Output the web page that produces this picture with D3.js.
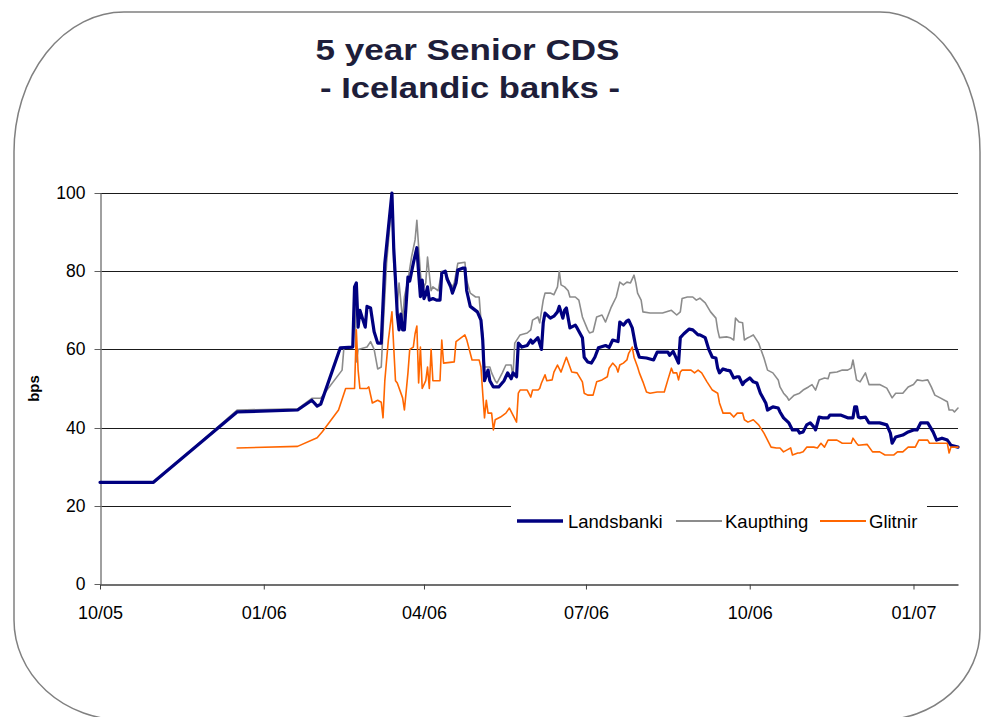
<!DOCTYPE html>
<html><head><meta charset="utf-8">
<script src="https://cdn.jsdelivr.net/npm/d3@7"></script>
<style>
html,body{margin:0;padding:0;background:#fff;}
svg{display:block;}
</style>
</head><body>
<svg id="chart" width="982" height="717"></svg>
<script>
// ---------- DATA ----------
const titleLines = ["5 year Senior CDS", "- Icelandic banks -"];
const yAxisTitle = "bps";
const seriesNames = ["Landsbanki", "Kaupthing", "Glitnir"];
const yTicks = [0, 20, 40, 60, 80, 100];
const xTickDates = ["2005-10-01", "2006-01-01", "2006-04-01", "2006-07-01", "2006-10-01", "2007-01-01"];
const xDomain = ["2005-10-01", "2007-01-26"];

const landsbanki = [
["2005-10-01",26],["2005-10-31",26],["2005-12-17",44],["2006-01-20",44.5],["2006-01-28",47],["2006-01-31",45.5],["2006-02-02",46],["2006-02-13",60.4],["2006-02-20",60.6],["2006-02-21",76],["2006-02-22",77],["2006-02-23",65.7],["2006-02-24",70],["2006-02-27",65.7],["2006-02-28",71],["2006-03-02",70.6],["2006-03-04",64.5],["2006-03-06",61.6],["2006-03-08",61.6],["2006-03-10",82],["2006-03-14",100],["2006-03-15",86],["2006-03-16",77.7],["2006-03-17",69],["2006-03-18",65],["2006-03-19",69],["2006-03-20",65],["2006-03-21",65],["2006-03-23",78.5],["2006-03-24",77.5],["2006-03-26",82],["2006-03-28",86],["2006-03-29",79.5],["2006-03-30",73.5],["2006-03-31",77.7],["2006-04-01",73],["2006-04-02",74],["2006-04-03",76],["2006-04-04",72.6],["2006-04-06",73],["2006-04-08",72.6],["2006-04-10",72.6],["2006-04-11",79.5],["2006-04-13",80],["2006-04-14",78],["2006-04-16",76],["2006-04-17",74.4],["2006-04-19",77],["2006-04-20",80.3],["2006-04-23",80.8],["2006-04-24",80.8],["2006-04-25",75],["2006-04-27",71],["2006-05-01",69.6],["2006-05-03",67.5],["2006-05-04",62.4],["2006-05-05",52],["2006-05-07",54.7],["2006-05-08",52],["2006-05-10",50.4],["2006-05-13",50.4],["2006-05-16",52],["2006-05-17",53],["2006-05-18",54],["2006-05-20",52.5],["2006-05-21",54],["2006-05-23",53],["2006-05-24",61.6],["2006-05-26",60.6],["2006-05-29",61],["2006-05-31",62.4],["2006-06-01",61.6],["2006-06-04",63],["2006-06-06",60],["2006-06-07",66.8],["2006-06-08",69.3],["2006-06-11",68],["2006-06-13",68.5],["2006-06-15",69.6],["2006-06-16",71],["2006-06-18",68],["2006-06-19",70],["2006-06-20",70.6],["2006-06-22",65.5],["2006-06-25",66.2],["2006-06-26",65.5],["2006-06-29",63],["2006-06-30",58],["2006-07-02",56.8],["2006-07-04",56.5],["2006-07-06",58],["2006-07-08",60.4],["2006-07-12",61],["2006-07-14",60.5],["2006-07-16",62.4],["2006-07-19",62],["2006-07-20",67],["2006-07-22",66.2],["2006-07-24",67.3],["2006-07-25",67.5],["2006-07-27",65.5],["2006-07-29",60.6],["2006-07-31",58],["2006-08-04",57.8],["2006-08-08",57.3],["2006-08-10",59.3],["2006-08-16",59.3],["2006-08-17",58.5],["2006-08-19",59.5],["2006-08-22",56.5],["2006-08-23",63],["2006-08-25",64],["2006-08-28",65.2],["2006-08-30",65],["2006-09-02",63.7],["2006-09-03",63.7],["2006-09-06",63],["2006-09-08",60],["2006-09-10",58],["2006-09-12",57.8],["2006-09-13",55.2],["2006-09-14",54],["2006-09-16",55],["2006-09-18",54.7],["2006-09-20",54.5],["2006-09-22",52.7],["2006-09-24",53],["2006-09-25",53],["2006-09-27",51],["2006-09-28",51.7],["2006-10-01",52.7],["2006-10-03",51.7],["2006-10-05",51.4],["2006-10-07",48.8],["2006-10-10",46.3],["2006-10-11",44.5],["2006-10-14",45.3],["2006-10-17",45],["2006-10-18",44],["2006-10-20",42.5],["2006-10-23",41.2],["2006-10-25",39.4],["2006-10-28",39.4],["2006-10-29",38.6],["2006-10-31",38.9],["2006-11-02",40.7],["2006-11-04",41.2],["2006-11-06",40.2],["2006-11-07",39.4],["2006-11-09",42.7],["2006-11-11",42.5],["2006-11-14",42.5],["2006-11-15",43.2],["2006-11-21",43.2],["2006-11-25",42.5],["2006-11-28",42.5],["2006-11-29",45.3],["2006-11-30",45.3],["2006-12-01",42.7],["2006-12-02",42.5],["2006-12-05",42.7],["2006-12-07",41.2],["2006-12-13",41.2],["2006-12-17",40.7],["2006-12-19",38.6],["2006-12-20",36],["2006-12-22",37.6],["2006-12-26",38.1],["2006-12-29",38.9],["2007-01-01",39.4],["2007-01-03",39.4],["2007-01-05",41.2],["2007-01-09",41.2],["2007-01-12",38.9],["2007-01-14",36.8],["2007-01-17",37.3],["2007-01-20",36.8],["2007-01-22",35.5],["2007-01-26",35]
];

const kaupthing = [
["2005-10-01",25.8],["2005-10-31",25.8],["2005-12-17",44.5],["2006-01-20",44.8],["2006-01-28",47.5],["2006-02-02",47.5],["2006-02-14",54.7],["2006-02-15",60.4],["2006-02-20",60.6],["2006-02-21",75],["2006-02-22",56.8],["2006-02-23",60],["2006-02-28",60.6],["2006-03-02",62],["2006-03-04",60],["2006-03-06",55],["2006-03-08",55.5],["2006-03-09",65],["2006-03-11",82],["2006-03-14",98],["2006-03-15",82],["2006-03-17",71],["2006-03-18",77],["2006-03-20",67.5],["2006-03-21",73.4],["2006-03-23",77.7],["2006-03-25",83.6],["2006-03-27",88],["2006-03-28",93],["2006-03-30",79.5],["2006-03-31",75],["2006-04-02",77],["2006-04-03",83.6],["2006-04-05",75],["2006-04-06",76],["2006-04-09",75],["2006-04-11",80],["2006-04-13",80],["2006-04-15",77.5],["2006-04-17",76],["2006-04-18",77],["2006-04-20",82],["2006-04-24",82.3],["2006-04-25",77.7],["2006-04-27",74.4],["2006-04-30",73.4],["2006-05-02",73.4],["2006-05-03",67.5],["2006-05-04",64],["2006-05-05",55.5],["2006-05-08",55.5],["2006-05-09",54],["2006-05-11",52],["2006-05-12",51.4],["2006-05-15",54],["2006-05-17",56],["2006-05-20",56],["2006-05-21",53],["2006-05-22",61.6],["2006-05-24",63],["2006-05-25",63.7],["2006-05-29",64.2],["2006-05-31",65],["2006-06-01",67.5],["2006-06-04",68.3],["2006-06-05",66.8],["2006-06-07",72.6],["2006-06-08",74.4],["2006-06-11",74.4],["2006-06-13",74],["2006-06-15",76],["2006-06-16",80],["2006-06-17",76.5],["2006-06-19",76],["2006-06-21",75],["2006-06-22",73.4],["2006-06-25",73.4],["2006-06-27",72.6],["2006-06-29",68.3],["2006-07-02",65],["2006-07-03",64.2],["2006-07-05",64.5],["2006-07-07",68.3],["2006-07-10",68.8],["2006-07-12",67],["2006-07-15",70.6],["2006-07-18",73.4],["2006-07-20",77.2],["2006-07-22",76.5],["2006-07-24",77.2],["2006-07-26",77],["2006-07-28",79],["2006-07-29",77],["2006-07-30",74.4],["2006-08-01",72.6],["2006-08-02",69.6],["2006-08-06",69.3],["2006-08-13",69.3],["2006-08-18",70],["2006-08-21",68.8],["2006-08-23",69.6],["2006-08-24",73],["2006-08-27",73.4],["2006-08-30",73.4],["2006-09-01",72.6],["2006-09-03",73.1],["2006-09-06",71.9],["2006-09-09",69.6],["2006-09-12",68],["2006-09-13",65],["2006-09-14",63],["2006-09-18",63.2],["2006-09-20",63],["2006-09-22",62.4],["2006-09-23",68],["2006-09-25",67],["2006-09-27",66.8],["2006-09-28",62.4],["2006-09-30",63],["2006-10-01",63.2],["2006-10-03",63.7],["2006-10-06",61.6],["2006-10-09",57.8],["2006-10-11",54.7],["2006-10-14",54],["2006-10-17",52.2],["2006-10-18",50.4],["2006-10-20",48.8],["2006-10-22",47.8],["2006-10-23",47],["2006-10-26",48.3],["2006-10-29",48.8],["2006-10-31",49.6],["2006-11-03",50.4],["2006-11-05",51],["2006-11-07",49.6],["2006-11-09",52.2],["2006-11-12",52.7],["2006-11-14",52.5],["2006-11-15",54],["2006-11-19",54.2],["2006-11-22",54.7],["2006-11-25",54.7],["2006-11-27",55.2],["2006-11-28",57.3],["2006-11-30",52.2],["2006-12-02",51.7],["2006-12-05",54],["2006-12-07",51],["2006-12-13",51],["2006-12-17",50.1],["2006-12-20",47.6],["2006-12-22",48.8],["2006-12-26",48.8],["2006-12-29",50.4],["2007-01-01",51],["2007-01-03",52.2],["2007-01-06",52],["2007-01-09",52.2],["2007-01-11",50.4],["2007-01-13",48.3],["2007-01-16",47.6],["2007-01-20",46.6],["2007-01-21",44.5],["2007-01-23",44.5],["2007-01-24",44],["2007-01-26",45]
];

const glitnir = [
["2005-12-17",34.8],["2006-01-20",35.2],["2006-01-31",37.4],["2006-02-03",39],["2006-02-12",44.5],["2006-02-16",50],["2006-02-21",50],["2006-02-22",65],["2006-02-23",54.7],["2006-02-24",50],["2006-02-28",50],["2006-03-01",50.4],["2006-03-03",46.3],["2006-03-06",47],["2006-03-08",46.5],["2006-03-09",42.5],["2006-03-10",52],["2006-03-12",62.4],["2006-03-14",69.6],["2006-03-15",60.6],["2006-03-16",52],["2006-03-17",51.4],["2006-03-20",47.6],["2006-03-21",44.5],["2006-03-23",54],["2006-03-24",60],["2006-03-26",60.6],["2006-03-27",64],["2006-03-28",66],["2006-03-29",51.4],["2006-03-30",60.6],["2006-03-31",50],["2006-04-02",52],["2006-04-03",55.5],["2006-04-04",50],["2006-04-05",60],["2006-04-06",52],["2006-04-10",52],["2006-04-11",62.4],["2006-04-12",56.5],["2006-04-18",56.8],["2006-04-19",62],["2006-04-24",63.7],["2006-04-25",62.5],["2006-04-28",57.3],["2006-05-02",57.3],["2006-05-03",55.5],["2006-05-04",48.8],["2006-05-05",42.5],["2006-05-06",47],["2006-05-07",43.7],["2006-05-09",43.7],["2006-05-10",39.4],["2006-05-11",42],["2006-05-14",42.7],["2006-05-17",43.7],["2006-05-19",45],["2006-05-21",43.2],["2006-05-23",41.4],["2006-05-24",48.8],["2006-05-25",49.6],["2006-05-29",49.6],["2006-05-31",47.8],["2006-06-01",49.6],["2006-06-04",49.6],["2006-06-05",50],["2006-06-06",51.4],["2006-06-08",53.5],["2006-06-09",52],["2006-06-12",52.2],["2006-06-13",54.2],["2006-06-15",56],["2006-06-17",54.2],["2006-06-19",56.8],["2006-06-20",58],["2006-06-22",55.5],["2006-06-23",54.2],["2006-06-26",54],["2006-06-29",51.7],["2006-06-30",48.8],["2006-07-02",48.3],["2006-07-05",48.3],["2006-07-07",51.7],["2006-07-10",52.2],["2006-07-13",53],["2006-07-14",55.2],["2006-07-16",56.5],["2006-07-18",55.5],["2006-07-19",54.2],["2006-07-20",56],["2006-07-22",56.5],["2006-07-24",57.3],["2006-07-25",59],["2006-07-27",60.6],["2006-07-28",58],["2006-07-30",55.5],["2006-07-31",54],["2006-08-02",51.7],["2006-08-04",49.1],["2006-08-06",48.8],["2006-08-10",49.1],["2006-08-14",49.1],["2006-08-16",52.2],["2006-08-18",55.2],["2006-08-19",54],["2006-08-21",54],["2006-08-22",52.2],["2006-08-23",54.2],["2006-08-24",54.7],["2006-08-29",54.7],["2006-08-31",54],["2006-09-02",54.7],["2006-09-04",54],["2006-09-07",51.7],["2006-09-10",49.6],["2006-09-13",48.8],["2006-09-14",46.3],["2006-09-16",43.7],["2006-09-20",43.7],["2006-09-22",42.7],["2006-09-24",43.7],["2006-09-27",43.7],["2006-09-28",42],["2006-09-30",41.4],["2006-10-03",42],["2006-10-06",40.7],["2006-10-09",38.6],["2006-10-13",35],["2006-10-16",34.8],["2006-10-18",34.8],["2006-10-20",33.8],["2006-10-22",34.3],["2006-10-24",34.8],["2006-10-25",33],["2006-10-28",33.5],["2006-10-29",33.5],["2006-10-31",33.8],["2006-11-02",35],["2006-11-06",35],["2006-11-08",34.8],["2006-11-10",36],["2006-11-12",35],["2006-11-14",36.8],["2006-11-19",36.8],["2006-11-22",36],["2006-11-27",36],["2006-11-28",37.3],["2006-11-30",36],["2006-12-01",35.5],["2006-12-06",35.7],["2006-12-09",33.8],["2006-12-13",33.8],["2006-12-16",33],["2006-12-21",33],["2006-12-23",33.8],["2006-12-26",33.8],["2006-12-29",35],["2007-01-02",35],["2007-01-04",36.8],["2007-01-09",36.8],["2007-01-10",36],["2007-01-20",36],["2007-01-21",33.5],["2007-01-22",35],["2007-01-26",35]
];

// ---------- DRAW ----------
const svg = d3.select("#chart");
const W = 982, H = 717;
const parse = d3.timeParse("%Y-%m-%d");
const margin = {left: 100, right: 24, top: 193, bottom: 133};
const plotL = margin.left, plotR = W - margin.right, plotT = margin.top, plotB = H - margin.bottom;

// frame with rounded corners
const fr = {l: 14, r: 980, t: 12, b: 720};
svg.append("path")
  .attr("d", `M${fr.l+110},${fr.t} H${fr.r-100} A100 140 0 0 1 ${fr.r},${fr.t+140} V${fr.b-90} A100 90 0 0 1 ${fr.r-100},${fr.b} H${fr.l+110} A110 100 0 0 1 ${fr.l},${fr.b-100} V${fr.t+140} A110 140 0 0 1 ${fr.l+110},${fr.t} Z`)
  .attr("fill", "#fff").attr("stroke", "#808080").attr("stroke-width", 1.5);

// title
const title = svg.append("g").attr("font-family", "'Liberation Sans', Arial, sans-serif")
  .attr("font-weight", "bold").attr("font-size", 30).attr("fill", "#1e1e3a");
title.append("text").attr("x", 467.5).attr("y", 60).attr("text-anchor", "middle")
  .attr("textLength", 304).attr("lengthAdjust", "spacingAndGlyphs").text(titleLines[0]);
title.append("text").attr("x", 470).attr("y", 98).attr("text-anchor", "middle")
  .attr("textLength", 300).attr("lengthAdjust", "spacingAndGlyphs").text(titleLines[1]);

const x = d3.scaleTime().domain(xDomain.map(parse)).range([plotL, plotR]);
const y = d3.scaleLinear().domain([0, 100]).range([plotB, plotT]);

// gridlines
svg.append("g").selectAll("line").data(yTicks.filter(v => v > 0)).join("line")
  .attr("x1", plotL).attr("x2", plotR)
  .attr("y1", d => Math.round(y(d)) + 0.5).attr("y2", d => Math.round(y(d)) + 0.5)
  .attr("stroke", "#1a1a1a").attr("stroke-width", 1);

// y axis
const yAxis = svg.append("g").attr("transform", `translate(${plotL + 0.5},0)`)
  .call(d3.axisLeft(y).tickValues(yTicks).tickSize(6).tickPadding(9).tickSizeOuter(0));
yAxis.select(".domain").attr("stroke", "#808080").attr("stroke-width", 1.5);
yAxis.selectAll(".tick line").attr("stroke", "#606060");
yAxis.selectAll(".tick").attr("transform", d => `translate(0,${Math.round(y(d)) + 0.5})`);
yAxis.selectAll("text").attr("font-family", "'Liberation Sans', Arial, sans-serif")
  .attr("font-size", 17.5).attr("fill", "#000");

// x axis
const fmt = d3.timeFormat("%m/%y");
const xAxis = svg.append("g").attr("transform", `translate(0,${Math.round(plotB) + 0.5})`)
  .call(d3.axisBottom(x).tickValues(xTickDates.map(parse)).tickFormat(fmt).tickSize(5).tickPadding(17).tickSizeOuter(0));
xAxis.select(".domain").attr("stroke", "#404040").attr("stroke-width", 1.5);
xAxis.selectAll(".tick line").attr("stroke", "#404040");
xAxis.selectAll("text").attr("font-family", "'Liberation Sans', Arial, sans-serif")
  .attr("font-size", 18).attr("fill", "#000");

// y axis title
svg.append("text").attr("transform", `translate(39,${(plotT + plotB) / 2}) rotate(-90)`)
  .attr("text-anchor", "middle").attr("font-family", "'Liberation Sans', Arial, sans-serif")
  .attr("font-weight", "bold").attr("font-size", 15).text(yAxisTitle);

// lines
const line = d3.line().x(d => x(parse(d[0]))).y(d => y(d[1]));
const styles = {
  Landsbanki: {data: landsbanki, color: "#000080", width: 3.2},
  Kaupthing: {data: kaupthing, color: "#8c8c8c", width: 1.6},
  Glitnir: {data: glitnir, color: "#ff6600", width: 1.6}
};
const drawOrder = ["Kaupthing", "Landsbanki", "Glitnir"];
const lines = svg.append("g");
drawOrder.forEach(name => {
  const s = styles[name];
  lines.append("path").datum(s.data).attr("d", line)
    .attr("fill", "none").attr("stroke", s.color).attr("stroke-width", s.width)
    .attr("stroke-linejoin", "round").attr("stroke-linecap", "round");
});

// legend
const lg = svg.append("g");
lg.append("rect").attr("x", 511).attr("y", 497).attr("width", 416).attr("height", 46).attr("fill", "#fff");
const legendPos = [{sx: 517, tx: 568}, {sx: 676, tx: 725}, {sx: 820, tx: 869}];
seriesNames.forEach((name, i) => {
  const s = styles[name], p = legendPos[i];
  lg.append("line").attr("x1", p.sx).attr("x2", p.sx + 46).attr("y1", 521).attr("y2", 521)
    .attr("stroke", s.color).attr("stroke-width", name === "Landsbanki" ? 3.4 : 1.8);
  lg.append("text").attr("x", p.tx).attr("y", 527.5)
    .attr("font-family", "'Liberation Sans', Arial, sans-serif").attr("font-size", 18.5)
    .attr("fill", "#000").text(name);
});
</script>
</body></html>
